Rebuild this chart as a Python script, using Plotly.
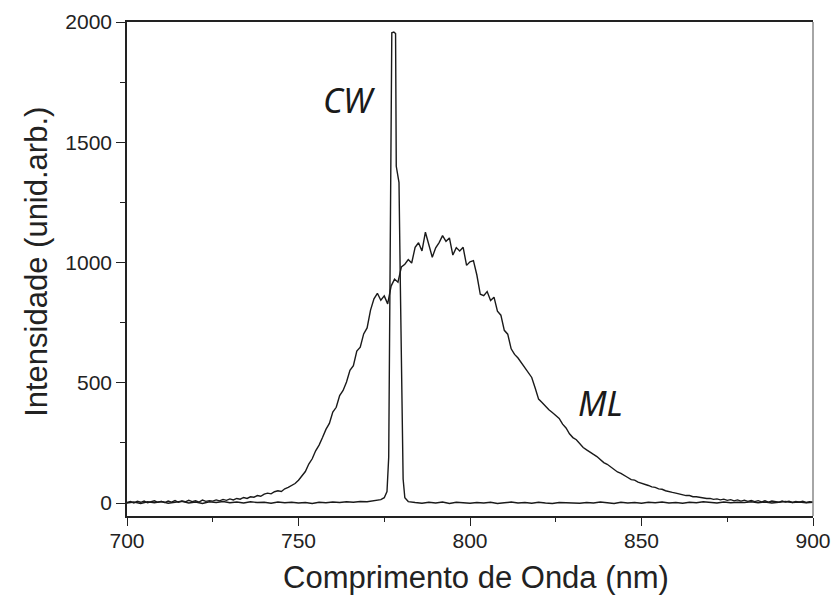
import plotly.graph_objects as go

# Mode-locked (ML) emission spectrum, 1 nm steps from 700 to 900 nm
ml_wavelength = list(range(700, 901))
ml_intensity = [
    2, 6, 0, 7, 3, 8, 1, 5, 9, 3, 6, 2, 8, 4, 10, 3, 8, 5, 11, 6,          # 700-719
    9, 4, 12, 7, 10, 8, 13, 9, 15, 11, 17, 13, 19, 16, 23, 19, 26, 24, 31, 28,  # 720-739
    37, 41, 38, 47, 51, 48, 59, 65, 72, 81, 95, 112, 131, 162, 184, 217, 241, 272, 306, 331,  # 740-759
    378, 398, 447, 468, 503, 552, 571, 632, 648, 703, 728, 802, 849, 872, 843, 861, 828, 902, 931, 918,  # 760-779
    982, 993, 1012, 998, 1063, 1082, 1048, 1126, 1068, 1022, 1061, 1083, 1112, 1088, 1102, 1031, 1062, 1048, 1063, 988,  # 780-799
    1003, 1008, 948, 868, 862, 879, 842, 856, 798, 781, 718, 702, 641, 618, 603, 583, 562, 538, 522, 478,  # 800-819
    432, 418, 402, 388, 376, 363, 352, 328, 312, 288, 272, 263, 247, 231, 221, 210, 202, 193, 181, 168,  # 820-839
    161, 149, 141, 129, 123, 113, 106, 97, 95, 87, 83, 77, 73, 67, 65, 59, 57, 51, 49, 44,  # 840-859
    41, 37, 36, 31, 31, 26, 26, 23, 23, 19, 19, 15, 17, 13, 16, 11, 14, 9, 13, 8,  # 860-879
    12, 7, 11, 6, 10, 5, 9, 4, 8, 6, 3, 8, 4, 7, 2, 6, 3, 7, 2, 5, 3,  # 880-900
]

# Continuous-wave (CW) emission line
cw_wavelength = [
    700, 702, 704, 706, 708, 710, 712, 714, 716, 718, 720, 722, 724, 726, 728,
    730, 732, 734, 736, 738, 740, 742, 744, 746, 748, 750, 752, 754, 756, 758,
    760, 762, 764, 766, 768, 770, 772, 774, 775, 775.8, 776.3, 776.8, 777.2,
    777.8, 778.3, 778.5, 779.3, 779.7, 780.1, 780.5, 781, 782, 784, 786, 788,
    790, 792, 794, 796, 798, 800, 802, 804, 806, 808, 810, 812, 814, 816, 818,
    820, 822, 824, 826, 828, 830, 832, 834, 836, 838, 840, 842, 844, 846, 848,
    850, 852, 854, 856, 858, 860, 862, 864, 866, 868, 870, 872, 874, 876, 878,
    880, 882, 884, 886, 888, 890, 892, 894, 896, 898, 900,
]
cw_intensity = [
    0, 4, -2, 5, 1, 6, -1, 3, 7, 0, 4, -2, 5, 2, 6,
    1, 4, 0, 5, 2, 3, -1, 4, 1, 3, 0, 2, -2, 3, 1,
    4, 2, 5, 3, 6, 5, 9, 14, 22, 48, 190, 980, 1955,
    1958, 1952, 1400, 1332, 900, 400, 100, 22, 6, 2, -1, 3,
    0, 4, -2, 3, 1, -1, 2, 0, 3, -2, 1, 4, 0, 2, -1,
    3, 0, -2, 2, 1, 3, -1, 2, 0, 4, 1, -2, 3, 0, 2,
    -1, 3, 1, 4, 0, 2, -1, 3, 1, 5, 2, 0, 4, 1, 3,
    2, 5, 1, 4, 0, 3, 6, 2, 4, 1, 3,
]

x_ticks = [700, 750, 800, 850, 900]
y_ticks = [0, 500, 1000, 1500, 2000]

line_style = dict(color="#1a1a1a", width=1.4)

fig = go.Figure()
fig.add_trace(go.Scatter(x=ml_wavelength, y=ml_intensity, mode="lines",
                         line=line_style, name="ML", showlegend=False))
fig.add_trace(go.Scatter(x=cw_wavelength, y=cw_intensity, mode="lines",
                         line=line_style, name="CW", showlegend=False))

label_font = dict(family="Comic Sans MS, Noto Sans, DejaVu Sans", size=34, color="#1a1a1a")
fig.add_annotation(x=765, y=1676, text="<i>CW</i>", showarrow=False, font=label_font)
fig.add_annotation(x=838, y=416, text="<i>ML</i>", showarrow=False, font=label_font)

axis_font = dict(family="Liberation Sans, Arial, sans-serif", size=21, color="#222222")
title_font = dict(family="Liberation Sans, Arial, sans-serif", size=31, color="#222222")

# axis titles
fig.add_annotation(xref="paper", yref="paper", x=0.509, y=-0.1255,
                   text="Comprimento de Onda (nm)", showarrow=False,
                   xanchor="center", yanchor="middle", font=title_font)
fig.add_annotation(xref="paper", yref="paper", x=-0.133, y=0.514,
                   text="Intensidade (unid.arb.)", showarrow=False, textangle=-90,
                   xanchor="center", yanchor="middle", font=title_font)

# right frame edge
fig.add_shape(type="line", xref="paper", yref="paper", x0=1, x1=1, y0=0, y1=1,
              line=dict(color="#888888", width=1.5))

fig.update_xaxes(
    range=[700, 900], tickvals=x_ticks, ticktext=[str(v) for v in x_ticks],
    ticks="outside", ticklen=8, tickwidth=1.3, tickcolor="#222222",
    minor=dict(dtick=25, tick0=700, ticks="outside", ticklen=4, tickwidth=1.3, tickcolor="#222222"),
    showline=True, linecolor="#222222", linewidth=1.5, mirror=True,
    showgrid=False, zeroline=False, tickfont=axis_font, automargin=False,
    ticklabelstandoff=-3,
)
fig.update_yaxes(
    range=[-54, 2000], tickvals=y_ticks, ticktext=[str(v) for v in y_ticks],
    ticks="outside", ticklen=9, tickwidth=1.3, tickcolor="#222222",
    minor=dict(dtick=250, tick0=0, ticks="outside", ticklen=5, tickwidth=1.3, tickcolor="#222222"),
    showline=True, linecolor="#222222", linewidth=1.5, mirror=False,
    showgrid=False, zeroline=False, tickfont=axis_font, automargin=False,
)

fig.update_layout(
    width=835, height=598,
    margin=dict(l=127, r=22, t=22, b=82),
    plot_bgcolor="white", paper_bgcolor="white",
)

fig.write_html("out.html")
